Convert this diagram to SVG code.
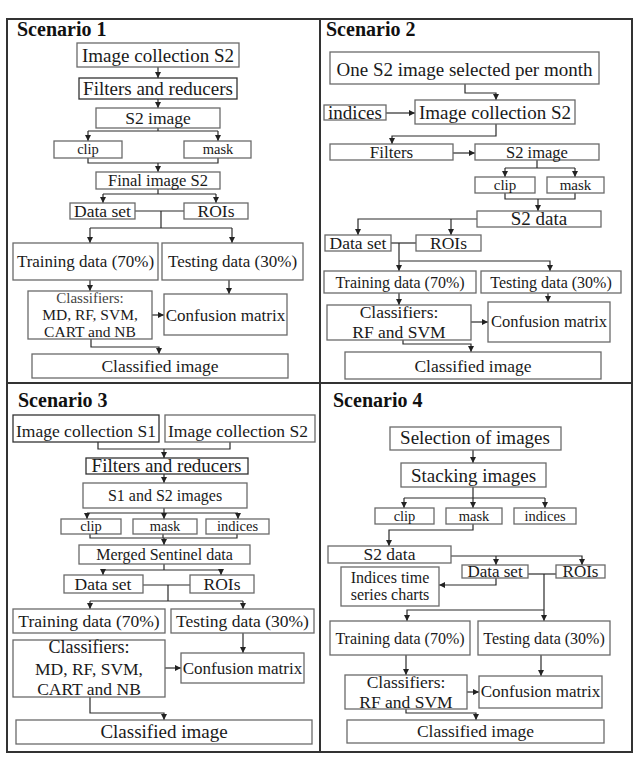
<svg xmlns="http://www.w3.org/2000/svg" width="642" height="768" viewBox="0 0 642 768">
<defs>
<marker id="ah" markerWidth="6" markerHeight="6" refX="6" refY="3" orient="auto" markerUnits="userSpaceOnUse"><path d="M0,0 L6,3 L0,6 z" fill="#222"/></marker>
<style>
.b{fill:#fff;stroke:#6a6a6a;stroke-width:1.3}
.t{font-family:"Liberation Serif","Times New Roman",serif;fill:#1a1a1a;text-anchor:middle}
.h{font-family:"Liberation Serif","Times New Roman",serif;font-weight:bold;font-size:20px;fill:#111}
.c path{fill:none;stroke:#2a2a2a;stroke-width:1.2}
.a{marker-end:url(#ah)}
</style>
</defs>
<rect x="0" y="0" width="642" height="768" fill="#fff"/>
<g id="frame" fill="none" stroke="#333" stroke-width="2">
<rect x="7" y="19" width="625" height="733"/>
<path d="M320,19 V752 M7,383 H632"/>
</g>
<text class="h" x="17" y="36">Scenario 1</text>
<text class="h" x="326" y="36">Scenario 2</text>
<text class="h" x="18" y="407">Scenario 3</text>
<text class="h" x="333" y="407">Scenario 4</text>

<g class="c" id="connectors">
<!-- Q1 -->
<path class="a" d="M158,67 V78"/>
<path class="a" d="M158,99 V108"/>
<path d="M158,128 V131 M88,131 H218"/>
<path class="a" d="M88,131 V141"/><path class="a" d="M218,131 V141"/>
<path d="M88,158 V163 H218 V158"/>
<path class="a" d="M158,163 V172"/>
<path d="M158,189 V194 M103,194 H216"/>
<path class="a" d="M103,194 V203"/><path class="a" d="M216,194 V203"/>
<path d="M135,211 H184 M161,211 V228 M90,228 H232"/>
<path class="a" d="M90,228 V243"/><path class="a" d="M232,228 V243"/>
<path class="a" d="M90,280 V291"/>
<path class="a" d="M229,280 V294"/>
<path class="a" d="M152,315 H164"/>
<path class="a" d="M91,339 V347 H159 V354"/>
<!-- Q2 -->
<path class="a" d="M465,84 V93 H496 V100"/>
<path class="a" d="M386,113 H415"/>
<path class="a" d="M496,124 V136 H392 V144"/>
<path class="a" d="M453,153 H475"/>
<path d="M537,160 V168 M505,168 H575"/>
<path class="a" d="M505,168 V177"/><path class="a" d="M575,168 V177"/>
<path d="M505,193 V199 H575 V193"/>
<path class="a" d="M538,199 V211"/>
<path class="a" d="M477,219 H358 V235"/>
<path class="a" d="M451,219 V235"/>
<path d="M391,243 H416"/>
<path class="a" d="M399,243 V271"/>
<path class="a" d="M399,261 H550 V271"/>
<path class="a" d="M399,293 V305"/>
<path class="a" d="M548,293 V302"/>
<path class="a" d="M471,322 H488"/>
<path class="a" d="M403,340 V344 H471 V352"/>
<!-- Q3 -->
<path d="M98,442 V449 H230 V442"/>
<path class="a" d="M164,449 V458"/>
<path class="a" d="M164,474 V483"/>
<path d="M164,508 V513 M87,513 H238"/>
<path class="a" d="M87,513 V519"/><path class="a" d="M164,513 V519"/><path class="a" d="M238,513 V519"/>
<path d="M90,534 V538 H237 V534 M163,534 V538"/>
<path class="a" d="M164,538 V545"/>
<path d="M164,564 V570 M103,570 H221"/>
<path class="a" d="M103,570 V575"/><path class="a" d="M221,570 V575"/>
<path d="M143,585 H190 M168,585 V601 M90,601 H243"/>
<path class="a" d="M90,601 V609"/><path class="a" d="M243,601 V609"/>
<path class="a" d="M243,633 V653"/>
<path class="a" d="M165,668 H181"/>
<path class="a" d="M90,697 V713 H164 V720"/>
<!-- Q4 -->
<path class="a" d="M473,450 V463"/>
<path d="M473,487 V498 M404,498 H545"/>
<path class="a" d="M404,498 V508"/><path class="a" d="M473,498 V508"/><path class="a" d="M545,498 V508"/>
<path class="a" d="M473,524 V530 H389 V546"/>
<path class="a" d="M451,556 H582 V565"/>
<path class="a" d="M496,556 V565"/>
<path d="M528,574 H556"/>
<path class="a" d="M544,574 V621"/>
<path class="a" d="M544,610 H407 V621"/>
<path class="a" d="M496,578 V585 H439"/>
<path class="a" d="M406,655 V675"/>
<path class="a" d="M541,655 V676"/>
<path class="a" d="M467,692 H479"/>
<path class="a" d="M406,709 V713 H476 V720"/>
</g>

<!-- Q1 nodes -->
<g id="s1-collection"><rect class="b" x="77" y="43" width="162" height="24"/><text class="t" x="158" y="62" font-size="19">Image collection S2</text></g>
<g id="s1-filters"><rect class="b" x="79" y="78" width="158" height="21" style="stroke:#333"/><text class="t" x="158" y="95" font-size="19">Filters and reducers</text></g>
<g id="s1-s2image"><rect class="b" x="96" y="108" width="124" height="20"/><text class="t" x="158" y="124" font-size="17.5">S2 image</text></g>
<g id="s1-clip"><rect class="b" x="54" y="141" width="68" height="17"/><text class="t" x="88" y="154" font-size="14.5">clip</text></g>
<g id="s1-mask"><rect class="b" x="184" y="141" width="67" height="17"/><text class="t" x="218" y="154" font-size="14.5">mask</text></g>
<g id="s1-final"><rect class="b" x="96" y="172" width="124" height="17"/><text class="t" x="158" y="186" font-size="16.5">Final image S2</text></g>
<g id="s1-dataset"><rect class="b" x="70" y="203" width="65" height="16"/><text class="t" x="102.5" y="217" font-size="17.5">Data set</text></g>
<g id="s1-rois"><rect class="b" x="184" y="203" width="64" height="16"/><text class="t" x="216" y="217" font-size="17.5">ROIs</text></g>
<g id="s1-training"><rect class="b" x="13" y="243" width="145" height="37"/><text class="t" x="85.5" y="267" font-size="17">Training data (70%)</text></g>
<g id="s1-testing"><rect class="b" x="162" y="243" width="141" height="37"/><text class="t" x="232.5" y="267" font-size="17">Testing data (30%)</text></g>
<g id="s1-classifiers"><rect class="b" x="28" y="291" width="124" height="48"/><text class="t" x="90" y="303" font-size="15" style="fill:#444">Classifiers:</text><text class="t" x="90" y="320" font-size="15.5">MD, RF, SVM,</text><text class="t" x="90" y="337" font-size="15.5">CART and NB</text></g>
<g id="s1-confusion"><rect class="b" x="164" y="294" width="123" height="41"/><text class="t" x="225.5" y="321" font-size="17">Confusion matrix</text></g>
<g id="s1-classified"><rect class="b" x="32" y="354" width="256" height="24"/><text class="t" x="160" y="372" font-size="17.5">Classified image</text></g>

<!-- Q2 nodes -->
<g id="s2-one"><rect class="b" x="330" y="52" width="269" height="32"/><text class="t" x="464.5" y="76" font-size="19">One S2 image selected per month</text></g>
<g id="s2-indices"><rect class="b" x="324" y="105" width="62" height="15"/><text class="t" x="355" y="119" font-size="19">indices</text></g>
<g id="s2-collection"><rect class="b" x="415" y="100" width="160" height="24"/><text class="t" x="495" y="119" font-size="19">Image collection S2</text></g>
<g id="s2-filters"><rect class="b" x="330" y="144" width="123" height="16"/><text class="t" x="391.5" y="158" font-size="17">Filters</text></g>
<g id="s2-s2image"><rect class="b" x="475" y="144" width="124" height="16"/><text class="t" x="537" y="158" font-size="16.5">S2 image</text></g>
<g id="s2-clip"><rect class="b" x="475" y="177" width="60" height="16"/><text class="t" x="505" y="190" font-size="15">clip</text></g>
<g id="s2-mask"><rect class="b" x="547" y="177" width="57" height="16"/><text class="t" x="575.5" y="190" font-size="15">mask</text></g>
<g id="s2-s2data"><rect class="b" x="477" y="211" width="124" height="16"/><text class="t" x="539" y="225" font-size="19">S2 data</text></g>
<g id="s2-dataset"><rect class="b" x="325" y="235" width="66" height="16"/><text class="t" x="358" y="249" font-size="17.5">Data set</text></g>
<g id="s2-rois"><rect class="b" x="416" y="235" width="65" height="16"/><text class="t" x="448.5" y="249" font-size="17.5">ROIs</text></g>
<g id="s2-training"><rect class="b" x="324" y="271" width="152" height="22"/><text class="t" x="400" y="288" font-size="16">Training data (70%)</text></g>
<g id="s2-testing"><rect class="b" x="481" y="271" width="140" height="22"/><text class="t" x="551" y="288" font-size="16">Testing data (30%)</text></g>
<g id="s2-classifiers"><rect class="b" x="327" y="305" width="144" height="35"/><text class="t" x="399" y="318" font-size="17.5">Classifiers:</text><text class="t" x="399" y="338" font-size="17.5">RF and SVM</text></g>
<g id="s2-confusion"><rect class="b" x="488" y="302" width="122" height="40"/><text class="t" x="549" y="327" font-size="16.5">Confusion matrix</text></g>
<g id="s2-classified"><rect class="b" x="345" y="352" width="256" height="27"/><text class="t" x="473" y="372" font-size="17.5">Classified image</text></g>

<!-- Q3 nodes -->
<g id="s3-s1"><rect class="b" x="13" y="415" width="146" height="27" style="stroke:#333"/><text class="t" x="86" y="437" font-size="17.5">Image collection S1</text></g>
<g id="s3-s2"><rect class="b" x="165" y="415" width="150" height="27"/><text class="t" x="238" y="437" font-size="17.5">Image collection S2</text></g>
<g id="s3-filters"><rect class="b" x="86" y="458" width="162" height="16" style="stroke:#333"/><text class="t" x="166.5" y="472" font-size="19">Filters and reducers</text></g>
<g id="s3-images"><rect class="b" x="83" y="483" width="164" height="25"/><text class="t" x="165" y="501" font-size="16">S1 and S2 images</text></g>
<g id="s3-clip"><rect class="b" x="61" y="519" width="60" height="15"/><text class="t" x="91" y="531" font-size="14.5">clip</text></g>
<g id="s3-mask"><rect class="b" x="133" y="519" width="64" height="15"/><text class="t" x="165" y="531" font-size="14.5">mask</text></g>
<g id="s3-indices"><rect class="b" x="206" y="519" width="63" height="15"/><text class="t" x="237.5" y="531" font-size="14.5">indices</text></g>
<g id="s3-merged"><rect class="b" x="79" y="545" width="171" height="19"/><text class="t" x="164.5" y="560" font-size="16">Merged Sentinel data</text></g>
<g id="s3-dataset"><rect class="b" x="64" y="575" width="79" height="18"/><text class="t" x="103" y="590" font-size="17.5">Data set</text></g>
<g id="s3-rois"><rect class="b" x="190" y="575" width="64" height="18"/><text class="t" x="222" y="590" font-size="17.5">ROIs</text></g>
<g id="s3-training"><rect class="b" x="13" y="609" width="152" height="24"/><text class="t" x="89" y="627" font-size="17.5">Training data (70%)</text></g>
<g id="s3-testing"><rect class="b" x="171" y="609" width="143" height="24"/><text class="t" x="242.5" y="627" font-size="17.5">Testing data (30%)</text></g>
<g id="s3-classifiers"><rect class="b" x="13" y="640" width="152" height="57"/><text class="t" x="89" y="653" font-size="18">Classifiers:</text><text class="t" x="89" y="675" font-size="17.5">MD, RF, SVM,</text><text class="t" x="89" y="695" font-size="17.5">CART and NB</text></g>
<g id="s3-confusion"><rect class="b" x="181" y="653" width="123" height="30"/><text class="t" x="242.5" y="674" font-size="17">Confusion matrix</text></g>
<g id="s3-classified"><rect class="b" x="16" y="720" width="296" height="24"/><text class="t" x="164" y="738" font-size="19">Classified image</text></g>

<!-- Q4 nodes -->
<g id="s4-selection"><rect class="b" x="390" y="427" width="171" height="23"/><text class="t" x="475" y="444" font-size="19">Selection of images</text></g>
<g id="s4-stacking"><rect class="b" x="401" y="463" width="145" height="24"/><text class="t" x="473.5" y="482" font-size="19">Stacking images</text></g>
<g id="s4-clip"><rect class="b" x="375" y="508" width="59" height="16"/><text class="t" x="404.5" y="521" font-size="14.5">clip</text></g>
<g id="s4-mask"><rect class="b" x="446" y="508" width="56" height="16"/><text class="t" x="474" y="521" font-size="14.5">mask</text></g>
<g id="s4-indices"><rect class="b" x="514" y="508" width="62" height="16"/><text class="t" x="545" y="521" font-size="14.5">indices</text></g>
<g id="s4-s2data"><rect class="b" x="328" y="546" width="123" height="17"/><text class="t" x="389.5" y="560" font-size="17.5">S2 data</text></g>
<g id="s4-charts"><rect class="b" x="341" y="567" width="98" height="39"/><text class="t" x="390" y="583" font-size="16">Indices time</text><text class="t" x="390" y="600" font-size="16">series charts</text></g>
<g id="s4-dataset"><rect class="b" x="462" y="565" width="66" height="13"/><text class="t" x="495" y="577" font-size="17">Data set</text></g>
<g id="s4-rois"><rect class="b" x="556" y="565" width="49" height="13"/><text class="t" x="580.5" y="577" font-size="17">ROIs</text></g>
<g id="s4-training"><rect class="b" x="330" y="621" width="140" height="34"/><text class="t" x="400" y="644" font-size="16">Training data (70%)</text></g>
<g id="s4-testing"><rect class="b" x="478" y="621" width="132" height="34"/><text class="t" x="544" y="644" font-size="16">Testing data (30%)</text></g>
<g id="s4-classifiers"><rect class="b" x="345" y="675" width="122" height="34"/><text class="t" x="406" y="688" font-size="17.5">Classifiers:</text><text class="t" x="406" y="708" font-size="17.5">RF and SVM</text></g>
<g id="s4-confusion"><rect class="b" x="479" y="676" width="123" height="32"/><text class="t" x="540.5" y="697" font-size="17">Confusion matrix</text></g>
<g id="s4-classified"><rect class="b" x="347" y="720" width="257" height="23"/><text class="t" x="475.5" y="737" font-size="17.5">Classified image</text></g>
</svg>
